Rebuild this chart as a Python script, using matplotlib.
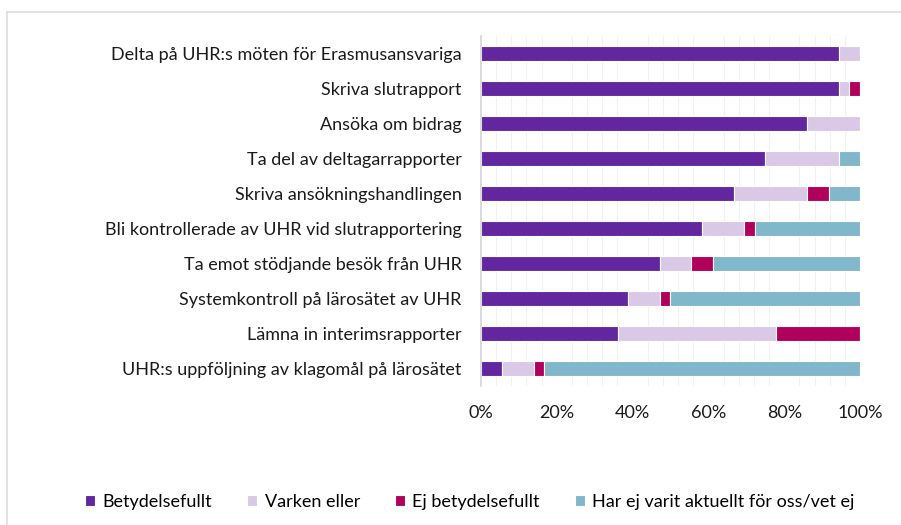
import numpy as np
import matplotlib
matplotlib.use("Agg")
import matplotlib.pyplot as plt
from matplotlib.lines import Line2D

plt.rcParams['font.family'] = ['Lato', 'DejaVu Sans']

categories = [
    "Delta på UHR:s möten för Erasmusansvariga",
    "Skriva slutrapport",
    "Ansöka om bidrag",
    "Ta del av deltagarrapporter",
    "Skriva ansökningshandlingen",
    "Bli kontrollerade av UHR vid slutrapportering",
    "Ta emot stödjande besök från UHR",
    "Systemkontroll på lärosätet av UHR",
    "Lämna in interimsrapporter",
    "UHR:s uppföljning av klagomål på lärosätet",
]

# shares in percent
betydelsefullt = [94.4, 94.4, 86.1, 75.0, 66.7, 58.3, 47.2, 38.9, 36.1, 5.6]
varken_eller = [5.6, 2.8, 13.9, 19.4, 19.4, 11.1, 8.3, 8.3, 41.7, 8.3]
ej_betydelsefullt = [0.0, 2.8, 0.0, 0.0, 5.6, 2.8, 5.6, 2.8, 22.2, 2.8]
ej_aktuellt = [0.0, 0.0, 0.0, 5.6, 8.3, 27.8, 38.9, 50.0, 0.0, 83.3]

series_labels = ["Betydelsefullt", "Varken eller", "Ej betydelsefullt",
                 "Har ej varit aktuellt för oss/vet ej"]
colors = ["#62279E", "#D9C9E6", "#B1005B", "#80B7CA"]

fig = plt.figure(figsize=(9.01, 5.25), dpi=100)
ax = fig.add_axes([481 / 901, 139 / 525, 379 / 901, 350 / 525])

y = np.arange(len(categories))
left = np.zeros(len(categories))
for vals, lab, col in zip([betydelsefullt, varken_eller, ej_betydelsefullt, ej_aktuellt],
                          series_labels, colors):
    v = np.array(vals) / 100
    ax.barh(y, v, left=left, height=0.42, color=col, edgecolor="white",
            linewidth=0.8, label=lab)
    left += v

ax.set_ylim(len(categories) - 0.5, -0.5)
ax.set_xlim(0, 1)
ax.set_yticks(y)
ax.set_yticklabels(categories, fontsize=13, color="#1a1a1a")
ax.set_xticks([0, 0.2, 0.4, 0.6, 0.8, 1.0])
ax.set_xticklabels(["0%", "20%", "40%", "60%", "80%", "100%"], fontsize=13,
                   color="#1a1a1a")
ax.set_xticks(np.arange(0, 1.001, 0.04), minor=True)
ax.tick_params(axis="both", which="both", length=0)
ax.tick_params(axis="x", pad=14)
ax.tick_params(axis="y", pad=14)
ax.grid(axis="x", which="minor", color="#f1f1f1", linewidth=0.8)
ax.set_axisbelow(True)
for s in ["top", "right", "bottom"]:
    ax.spines[s].set_visible(False)
ax.spines["left"].set_color("#d4d4d4")
ax.spines["left"].set_linewidth(1.2)

handles, labels = ax.get_legend_handles_labels()
fig.legend(handles, labels, loc="center", bbox_to_anchor=(470 / 901, 23 / 525),
           ncol=4, frameon=False, fontsize=13, handlelength=0.55,
           handleheight=0.55, handletextpad=0.4, columnspacing=1.95)

# frame lines of the surrounding box
fig.add_artist(Line2D([7 / 901, 7 / 901], [0, 1 - 12 / 525], color="#dddddd", lw=1.2))
fig.add_artist(Line2D([7 / 901, 1], [1 - 12 / 525, 1 - 12 / 525], color="#dddddd", lw=1.2))

fig.savefig("out.png", dpi=100)
